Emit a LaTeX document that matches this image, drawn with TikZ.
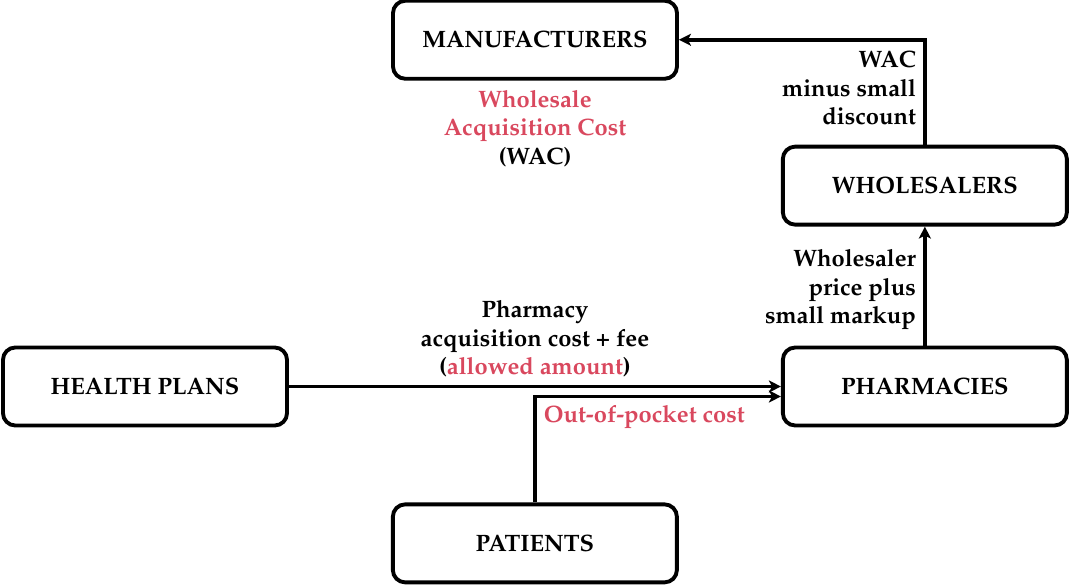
\documentclass[tikz,border=0pt]{standalone}
\usepackage[T1]{fontenc}
\usepackage{mathpazo}
\usepackage{tikz}
\usetikzlibrary{positioning,arrows.meta}
\definecolor{costred}{RGB}{217,72,94}

\begin{document}
\begin{tikzpicture}[
  font=\fontsize{13.5}{16.2}\selectfont\bfseries,
  box/.style={draw, line width=2.2pt, rounded corners=7pt, align=center,
              minimum width=5.68cm, minimum height=1.56cm},
  lbl/.style={align=right, inner sep=4pt},
  fleche/.style={-{Stealth[length=2.4mm, width=2.4mm, inset=0.6mm]}, line width=2.2pt}]

\useasboundingbox (0,0) rectangle (21.42,-11.7);

\node[box] (health) at (2.9,-7.73) {HEALTH PLANS};
\node[box, right=9.84cm of health] (pharm) {PHARMACIES};
\node[box, above=2.38cm of pharm] (whole) {WHOLESALERS};
\node[box, above left=1.28cm and 2.04cm of whole] (manuf) {MANUFACTURERS};
\node[box, below right=1.5cm and 2.04cm of health] (patients) {PATIENTS};
\node[below=0.4mm of manuf, align=center, inner sep=4pt] (wac)
  {\textcolor{costred}{Wholesale}\\\textcolor{costred}{Acquisition Cost}\\(WAC)};

\draw[fleche] (whole.north) |- node[lbl, pos=0.27, left]{WAC\\minus small\\discount} (manuf.east);
\draw[fleche] (pharm.north) -- node[lbl, pos=0.47, left]{Wholesaler\\price plus\\small markup} (whole.south);
\draw[fleche] (health.east) -- node[above, align=center, inner sep=4pt]
  {Pharmacy\\acquisition cost + fee\\(\textcolor{costred}{allowed amount})} (pharm.west);
\draw[fleche] (patients.north) |- node[pos=0.5, below right, inner sep=4pt, text=costred]
  {Out-of-pocket cost} ([yshift=-0.2cm]pharm.west);
\end{tikzpicture}
\end{document}
